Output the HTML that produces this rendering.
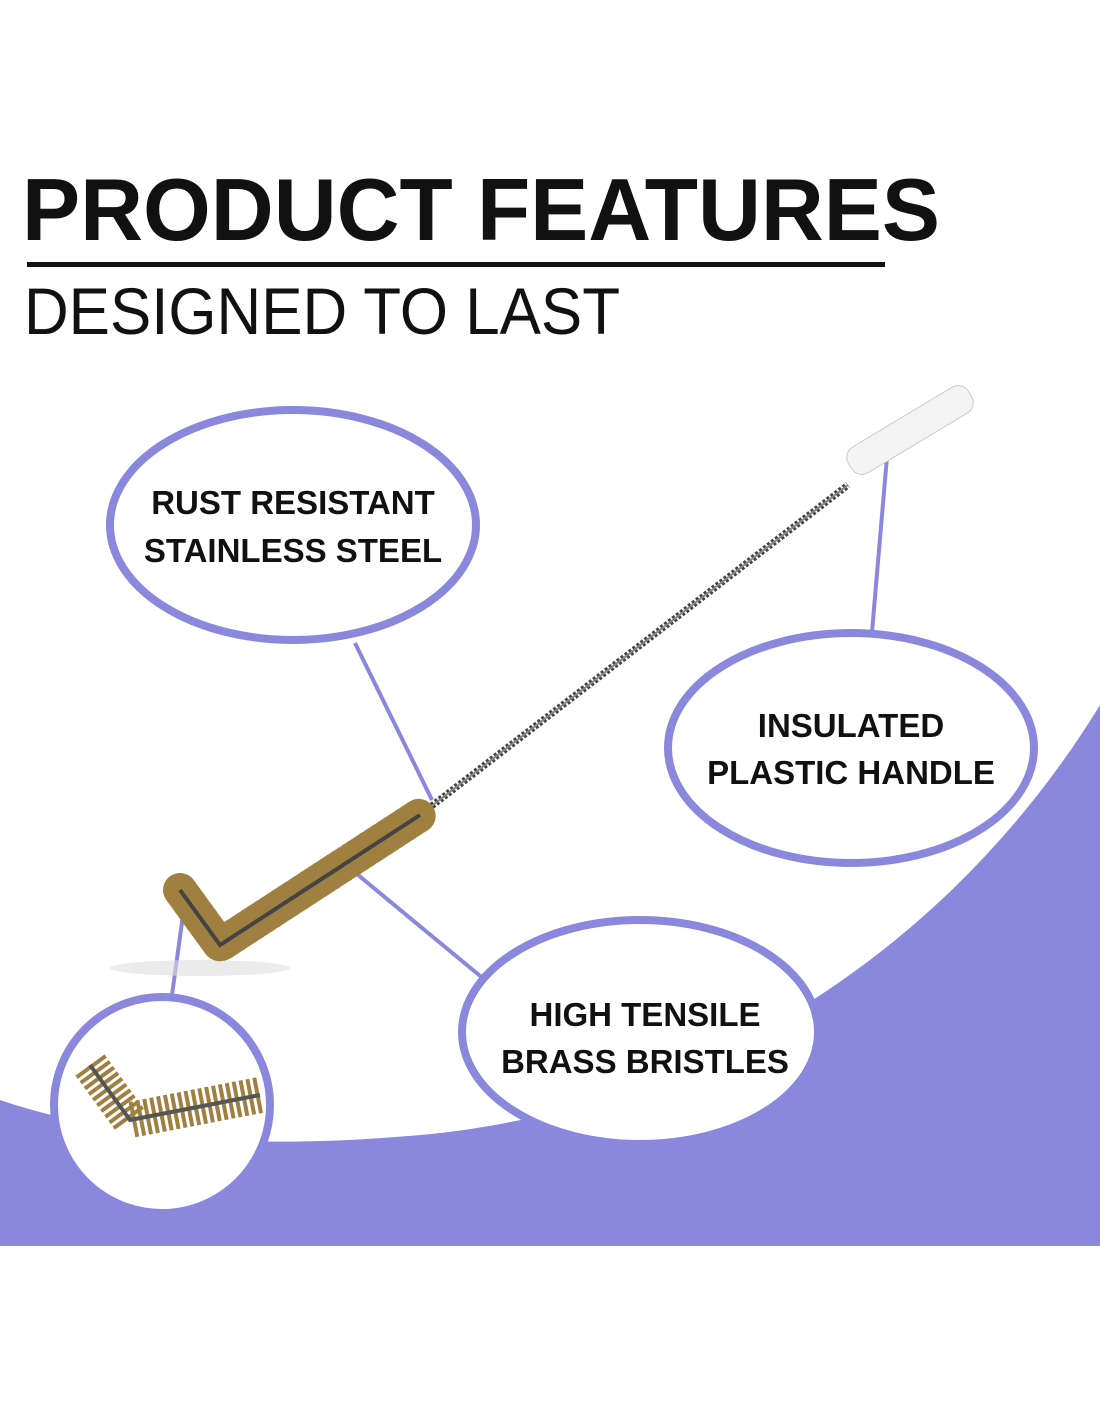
<!DOCTYPE html>
<html><head><meta charset="utf-8"><style>
html,body{margin:0;padding:0;background:#fff;}
body{width:1100px;height:1422px;position:relative;overflow:hidden;font-family:"Liberation Sans",sans-serif;}
</style></head><body>
<svg width="1100" height="1422" viewBox="0 0 1100 1422" style="position:absolute;left:0;top:0">
<path d="M0,1100 C120,1140 250,1150 420,1135 C700,1110 950,950 1100,705 L1100,1246 L0,1246 Z" fill="#8a88dc"/>
<text x="22" y="240" font-family="Liberation Sans, sans-serif" font-weight="bold" font-size="88" fill="#111" textLength="918" lengthAdjust="spacingAndGlyphs">PRODUCT FEATURES</text>
<rect x="27" y="262" width="858" height="5" fill="#111"/>
<text x="24" y="334" font-family="Liberation Sans, sans-serif" font-size="66" fill="#111" textLength="596" lengthAdjust="spacingAndGlyphs">DESIGNED TO LAST</text>
<g stroke="#8a88dc" stroke-width="4">
<line x1="355" y1="643" x2="432" y2="800"/>
<line x1="888" y1="445" x2="872" y2="632"/>
<line x1="352" y1="870" x2="485" y2="980"/>
<line x1="183" y1="915" x2="172" y2="995"/>
</g>
<ellipse cx="200" cy="968" rx="90" ry="8" fill="#ddd" opacity="0.6"/>
<line x1="420" y1="815" x2="848" y2="485" stroke="#444" stroke-width="7" stroke-dasharray="3 2"/>
<line x1="420" y1="815" x2="848" y2="485" stroke="#888" stroke-width="2"/>
<g transform="rotate(-31 910 430)"><rect x="840" y="415" width="140" height="30" rx="12" fill="#f4f4f4" stroke="#ccc"/></g>
<path d="M180,890 L220,945 L420,815" stroke="#a08040" stroke-width="34" fill="none" stroke-dasharray="4 3" stroke-linecap="round"/>
<path d="M180,890 L220,945 L420,815" stroke="#444" stroke-width="4" fill="none"/>
<g fill="#fff" stroke="#8a88dc" stroke-width="8">
<ellipse cx="293" cy="525" rx="183" ry="115"/>
<ellipse cx="851" cy="748" rx="183" ry="115"/>
<ellipse cx="640" cy="1032" rx="178" ry="112"/>
<circle cx="162" cy="1105" r="108"/>
</g>
<path d="M90,1065 L130,1120 L260,1095" stroke="#a08040" stroke-width="36" fill="none" stroke-dasharray="4 3"/>
<path d="M90,1065 L130,1120 L260,1095" stroke="#555" stroke-width="4" fill="none"/>
<g font-family="Liberation Sans, sans-serif" font-weight="bold" font-size="33" fill="#111" text-anchor="middle">
<text x="293" y="514">RUST RESISTANT</text>
<text x="293" y="562">STAINLESS STEEL</text>
<text x="851" y="737">INSULATED</text>
<text x="851" y="784">PLASTIC HANDLE</text>
<text x="645" y="1026">HIGH TENSILE</text>
<text x="645" y="1073">BRASS BRISTLES</text>
</g>
</svg>
</body></html>
